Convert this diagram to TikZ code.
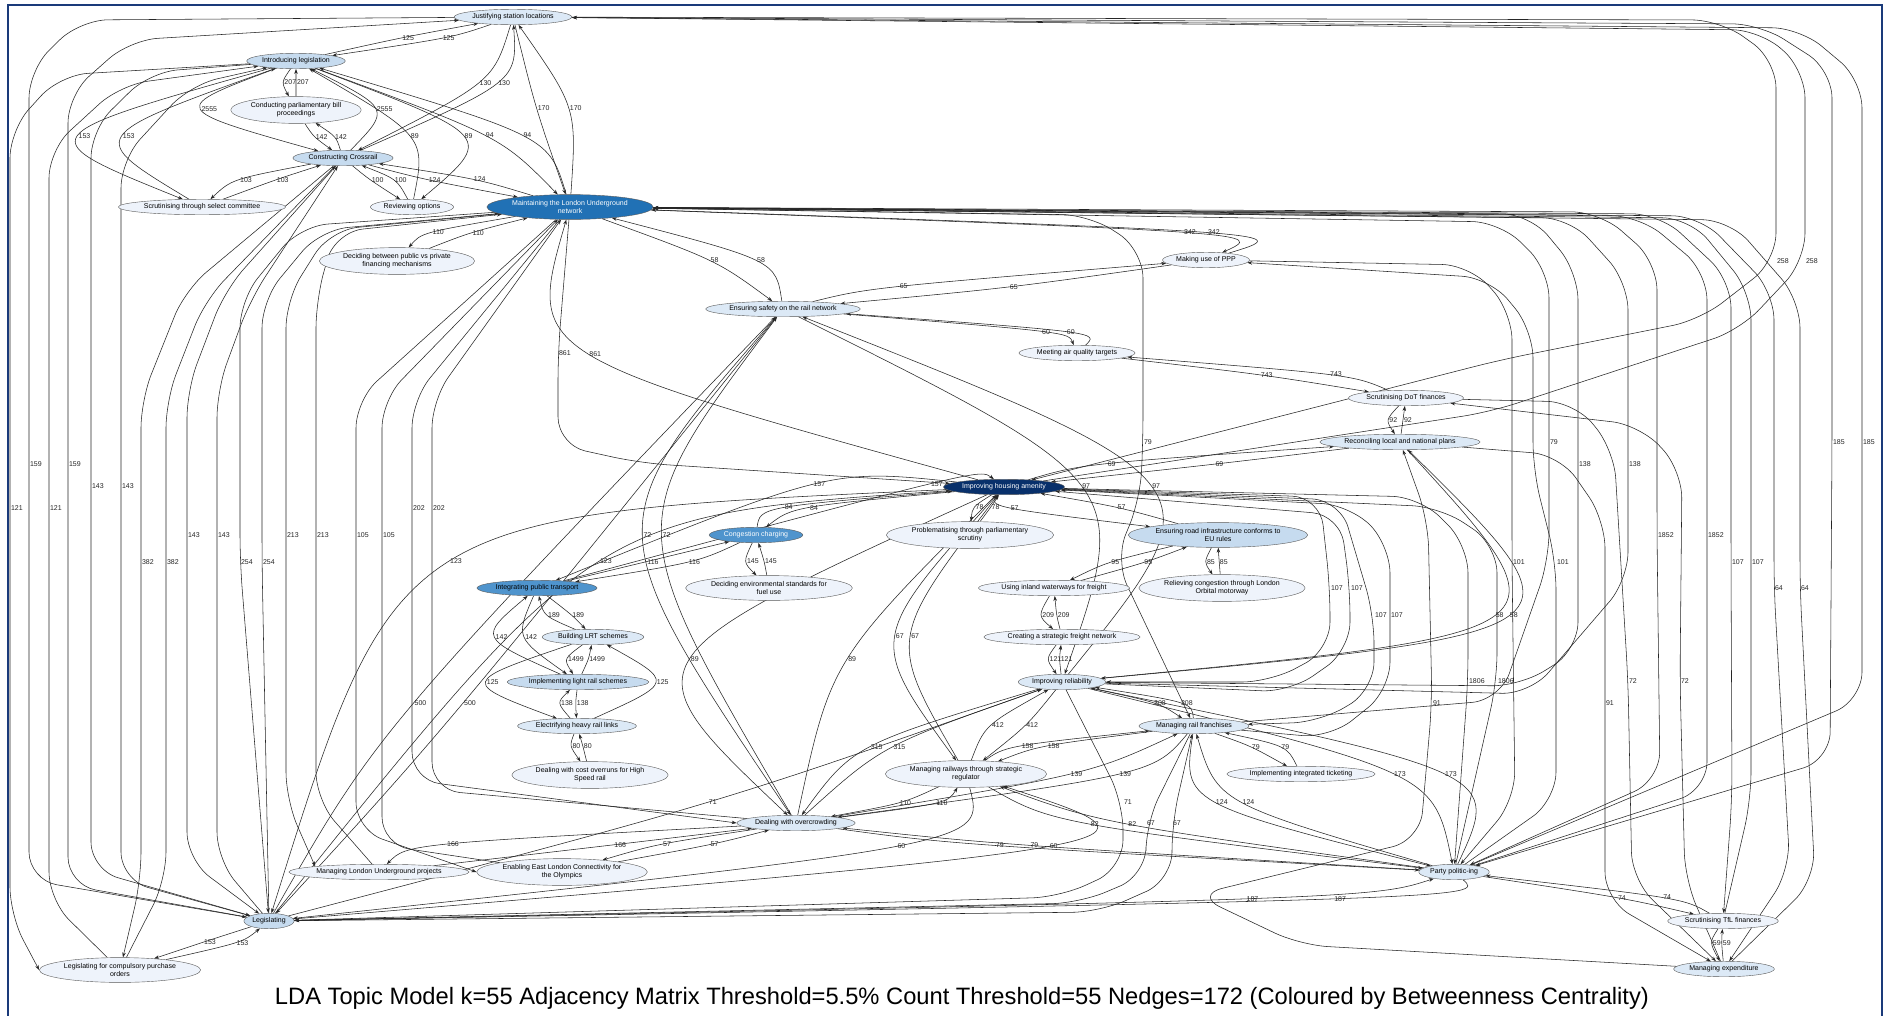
\documentclass[tikz,border=0pt]{standalone}
\usepackage{fontspec}
\setmainfont{Liberation Sans}
\usepackage{tikz}
\usetikzlibrary{arrows.meta,shapes.geometric,calc,backgrounds}

\definecolor{bc0}{HTML}{EEF3FB}
\definecolor{bc1}{HTML}{DCE9F6}
\definecolor{bc2}{HTML}{C6DBEF}
\definecolor{bc3}{HTML}{4F94CD}
\definecolor{bc4}{HTML}{2171B5}
\definecolor{bc5}{HTML}{08306B}
\definecolor{frame}{HTML}{1A3A7A}

\newcommand{\nfont}{\fontsize{7}{8}\selectfont}
\newcommand{\lfont}{\fontsize{7}{8}\selectfont}

% one weighted arc, bent through a point on its way
\newcommand{\lnk}[4]{%
  \draw[arr] (#1) .. controls ($1.3333*(#3)-0.16667*(#1)-0.16667*(#2)$) .. (#2)
    node[lbl,pos=.5]{#4};}

\begin{document}
\begin{tikzpicture}[
    x=1pt, y=-1pt,
    nd/.style={ellipse, draw=black!65, line width=0.4pt, inner xsep=1pt, inner ysep=2.2pt, font=\nfont, align=center},
    arr/.style={-{Stealth[length=5pt,width=3.5pt]}, draw=black!85, line width=0.55pt},
    rte/.style={arr, rounded corners=28pt},
    lbl/.style={font=\lfont, inner sep=0.8pt, anchor=west, text=black!85}
  ]
  \useasboundingbox (0,0) rectangle (1885,1015);

  % topics
  \node[nd, fill=bc1] (just) at (513,17) {Justifying station locations};
  \node[nd, fill=bc2] (intro) at (296,61) {Introducing legislation};
  \node[nd, fill=bc0] (conduct) at (296,110) {Conducting parliamentary bill\\proceedings};
  \node[nd, fill=bc2] (crossrail) at (343,158) {Constructing Crossrail};
  \node[nd, fill=bc0] (scrutsc) at (202,207) {Scrutinising through select committee};
  \node[nd, fill=bc0] (review) at (412,207) {Reviewing options};
  \node[nd, fill=bc4, text=white] (lu) at (570,207) {Maintaining the London Underground\\network};
  \node[nd, fill=bc0] (pubpriv) at (397,261) {Deciding between public vs private\\financing mechanisms};
  \node[nd, fill=bc0] (ppp) at (1206,260) {Making use of PPP};
  \node[nd, fill=bc1] (safety) at (783,309) {Ensuring safety on the rail network};
  \node[nd, fill=bc0] (air) at (1077,353) {Meeting air quality targets};
  \node[nd, fill=bc0] (dot) at (1406,398) {Scrutinising DoT finances};
  \node[nd, fill=bc1] (recon) at (1400,442) {Reconciling local and national plans};
  \node[nd, fill=bc5, text=white] (housing) at (1004,487) {Improving housing amenity};
  \node[nd, fill=bc3, text=white] (congest) at (756,535) {Congestion charging};
  \node[nd, fill=bc0] (problem) at (970,535) {Problematising through parliamentary\\scrutiny};
  \node[nd, fill=bc2] (euroad) at (1218,535) {Ensuring road infrastructure conforms to\\EU rules};
  \node[nd, fill=bc0] (envstd) at (769,588) {Deciding environmental standards for\\fuel use};
  \node[nd, fill=bc3] (integ) at (537,588) {Integrating public transport};
  \node[nd, fill=bc0] (waterway) at (1054,588) {Using inland waterways for freight};
  \node[nd, fill=bc0] (orbital) at (1222,588) {Relieving congestion through London\\Orbital motorway};
  \node[nd, fill=bc1] (lrt) at (593,637) {Building LRT schemes};
  \node[nd, fill=bc0] (freight) at (1062,637) {Creating a strategic freight network};
  \node[nd, fill=bc2] (lightrail) at (578,682) {Implementing light rail schemes};
  \node[nd, fill=bc1] (reliab) at (1062,682) {Improving reliability};
  \node[nd, fill=bc1] (electric) at (577,726) {Electrifying heavy rail links};
  \node[nd, fill=bc1] (franch) at (1194,726) {Managing rail franchises};
  \node[nd, fill=bc0] (overrun) at (590,775) {Dealing with cost overruns for High\\Speed rail};
  \node[nd, fill=bc0] (regul) at (966,774) {Managing railways through strategic\\regulator};
  \node[nd, fill=bc0] (ticket) at (1301,774) {Implementing integrated ticketing};
  \node[nd, fill=bc1] (overcrowd) at (796,823) {Dealing with overcrowding};
  \node[nd, fill=bc0] (lupro) at (379,872) {Managing London Underground projects};
  \node[nd, fill=bc0] (olymp) at (562,872) {Enabling East London Connectivity for\\the Olympics};
  \node[nd, fill=bc1] (party) at (1454,872) {Party politic-ing};
  \node[nd, fill=bc2] (legis) at (269,921) {Legislating};
  \node[nd, fill=bc0] (til) at (1723,921) {Scrutinising TfL finances};
  \node[nd, fill=bc0] (cpo) at (120,970) {Legislating for compulsory purchase\\orders};
  \node[nd, fill=bc1] (expend) at (1724,969) {Managing expenditure};

  \node[font=\fontsize{23.7}{27}\selectfont] (caption) at (962,998)
    {LDA Topic Model k=55 Adjacency Matrix Threshold=5.5\% Count Threshold=55 Nedges=172 (Coloured by Betweenness Centrality)};

  \draw[frame, line width=2pt] (8,1040) -- (8,5) -- (1882,5) -- (1882,1040);

  \begin{scope}[on background layer]
    \fill[white] (0,0) rectangle (1885,1015);

    % upper cluster
    \lnk{intro}{just}{402,38}{125}
    \lnk{just}{intro}{440,38}{125}
    \lnk{intro}{conduct}{285,83}{207}
    \lnk{conduct}{intro}{296,83}{207}
    \lnk{intro}{crossrail}{206,109}{2555}
    \lnk{crossrail}{intro}{373,109}{2555}
    \lnk{conduct}{crossrail}{315,136}{142}
    \lnk{crossrail}{conduct}{332,136}{142}
    \lnk{intro}{scrutsc}{83,136}{153}
    \lnk{scrutsc}{intro}{126,136}{153}
    \lnk{crossrail}{scrutsc}{242,180}{103}
    \lnk{scrutsc}{crossrail}{276,180}{103}
    \lnk{crossrail}{review}{371,180}{100}
    \lnk{review}{crossrail}{392,180}{100}
    \lnk{review}{intro}{408,136}{89}
    \lnk{intro}{review}{460,136}{89}
    \lnk{just}{crossrail}{477,83}{130}
    \lnk{crossrail}{just}{495,83}{130}
    \lnk{crossrail}{lu}{431,180}{124}
    \lnk{lu}{crossrail}{473,180}{124}
    \lnk{intro}{lu}{484,136}{94}
    \lnk{lu}{intro}{520,136}{94}
    \lnk{just}{lu}{537,109}{170}
    \lnk{lu}{just}{568,109}{170}
    \lnk{lu}{pubpriv}{437,233}{110}
    \lnk{pubpriv}{lu}{473,233}{110}

    % middle
    \lnk{lu}{ppp}{1171,233}{342}
    \lnk{ppp}{lu}{1194,233}{342}
    \lnk{lu}{safety}{707,260}{58}
    \lnk{safety}{lu}{751,260}{58}
    \lnk{safety}{ppp}{900,287}{65}
    \lnk{ppp}{safety}{1006,287}{65}
    \lnk{safety}{air}{1034,332}{60}
    \lnk{air}{safety}{1057,332}{60}
    \lnk{air}{dot}{1259,375}{743}
    \lnk{dot}{air}{1325,375}{743}
    \lnk{dot}{recon}{1390,420}{92}
    \lnk{recon}{dot}{1403,420}{92}
    \lnk{housing}{lu}{592,353}{861}
    \draw[rte] (lu) -- (558,353) node[lbl]{861} -- (558,445) -- (640,463) -- (housing);
    \lnk{housing}{recon}{1112,464}{69}
    \lnk{recon}{housing}{1215,464}{69}
    \lnk{housing}{integ}{816,486}{157}
    \lnk{integ}{housing}{928,486}{157}
    \lnk{safety}{reliab}{1079,486}{97}
    \lnk{reliab}{safety}{1148,486}{97}
    \lnk{congest}{housing}{790,508}{84}
    \lnk{housing}{congest}{814,508}{84}
    \lnk{housing}{problem}{976,508}{78}
    \lnk{problem}{housing}{990,508}{78}
    \lnk{housing}{euroad}{1019,508}{57}
    \lnk{euroad}{housing}{1117,508}{57}
    \lnk{safety}{overcrowd}{644,535}{72}
    \lnk{overcrowd}{safety}{663,535}{72}
    \lnk{congest}{envstd}{748,562}{145}
    \lnk{envstd}{congest}{764,562}{145}
    \lnk{euroad}{waterway}{1114,562}{95}
    \lnk{waterway}{euroad}{1144,562}{95}
    \lnk{euroad}{orbital}{1208,562}{85}
    \lnk{orbital}{euroad}{1219,562}{85}
    \lnk{housing}{legis}{456,562}{123}
    \lnk{legis}{housing}{605,562}{123}
    \lnk{integ}{congest}{646,562}{116}
    \lnk{congest}{integ}{685,562}{116}
    \lnk{lrt}{integ}{549,615}{189}
    \lnk{integ}{lrt}{571,615}{189}
    \lnk{lightrail}{integ}{498,637}{142}
    \lnk{integ}{lightrail}{526,637}{142}
    \lnk{housing}{regul}{897,637}{67}
    \lnk{regul}{housing}{912,637}{67}
    \lnk{waterway}{freight}{1043,615}{209}
    \lnk{freight}{waterway}{1057,615}{209}
    \lnk{lrt}{lightrail}{569,659}{1499}
    \lnk{lightrail}{lrt}{588,659}{1499}
    \lnk{housing}{overcrowd}{693,659}{89}
    \lnk{overcrowd}{housing}{848,659}{89}
    \lnk{freight}{reliab}{1050,659}{121}
    \lnk{reliab}{freight}{1060,659}{121}
    \lnk{lrt}{electric}{491,682}{125}
    \lnk{electric}{lrt}{652,682}{125}
    \lnk{electric}{lightrail}{562,703}{138}
    \lnk{lightrail}{electric}{576,703}{138}
    \lnk{legis}{safety}{414,703}{500}
    \lnk{safety}{legis}{463,703}{500}
    \lnk{electric}{overrun}{573,747}{80}
    \lnk{overrun}{electric}{583,747}{80}

    % lower
    \lnk{reliab}{overcrowd}{872,747}{315}
    \lnk{overcrowd}{reliab}{894,747}{315}
    \lnk{regul}{reliab}{992,726}{412}
    \lnk{reliab}{regul}{1024,726}{412}
    \lnk{reliab}{franch}{1151,703}{308}
    \lnk{franch}{reliab}{1176,703}{308}
    \lnk{regul}{franch}{1024,747}{158}
    \lnk{franch}{regul}{1048,747}{158}
    \lnk{franch}{ticket}{1250,747}{79}
    \lnk{ticket}{franch}{1277,747}{79}
    \lnk{overcrowd}{franch}{1067,774}{139}
    \lnk{franch}{overcrowd}{1114,774}{139}
    \lnk{regul}{overcrowd}{898,802}{110}
    \lnk{overcrowd}{regul}{931,802}{110}
    \lnk{legis}{reliab}{708,802}{71}
    \draw[rte] (reliab) -- (1123,802) node[lbl]{71} -- (1123,868) -- (1060,897) -- (legis);
    \draw[rte] (franch) -- (1146,823) node[lbl]{67} -- (1146,875) -- (1080,903) -- (legis);
    \draw[rte] (legis) -- (1100,912) -- (1172,880) -- (1172,823) node[lbl]{67} -- (franch);
    \lnk{regul}{party}{1091,823}{82}
    \lnk{party}{regul}{1127,823}{82}
    \lnk{franch}{party}{1218,802}{124}
    \lnk{party}{franch}{1244,802}{124}
    \lnk{overcrowd}{party}{994,845}{79}
    \lnk{party}{overcrowd}{1028,845}{79}
    \lnk{regul}{legis}{893,845}{60}
    \lnk{legis}{regul}{1041,845}{60}
    \lnk{legis}{party}{1245,898}{187}
    \lnk{party}{legis}{1329,898}{187}
    \lnk{overcrowd}{lupro}{452,845}{166}
    \lnk{lupro}{overcrowd}{612,845}{166}
    \lnk{overcrowd}{olymp}{662,845}{57}
    \lnk{olymp}{overcrowd}{706,845}{57}
    \lnk{legis}{cpo}{201,943}{153}
    \lnk{cpo}{legis}{231,943}{153}
    \lnk{party}{til}{1617,898}{74}
    \lnk{til}{party}{1660,898}{74}
    \lnk{til}{expend}{1713,943}{59}
    \lnk{expend}{til}{1722,943}{59}
    \lnk{recon}{reliab}{1489,615}{58}
    \lnk{reliab}{recon}{1503,615}{58}
    \lnk{reliab}{party}{1390,774}{173}
    \lnk{party}{reliab}{1440,774}{173}

    % long runs down the left
    \draw[rte] (intro) -- (60,75) -- (10,130) -- (10,508) node[lbl]{121} -- (10,915) -- (cpo.west);
    \draw[rte] (cpo) -- (49,900) -- (49,508) node[lbl]{121} -- (49,150) -- (120,85) -- (intro);
    \draw[rte] (just) -- (80,20) -- (29,70) -- (29,464) node[lbl]{159} -- (29,880) -- (legis);
    \draw[rte] (legis) -- (68,885) -- (68,464) node[lbl]{159} -- (68,95) -- (130,40) -- (just);
    \draw[rte] (intro) -- (150,72) -- (91,130) -- (91,486) node[lbl]{143} -- (91,870) -- (legis);
    \draw[rte] (legis) -- (121,880) -- (121,486) node[lbl]{143} -- (121,160) -- (190,85) -- (intro);
    \draw[rte] (crossrail) -- (185,290) -- (141,400) -- (141,562) node[lbl]{382} -- (141,880) -- (cpo);
    \draw[rte] (cpo) -- (166,880) -- (166,562) node[lbl]{382} -- (166,400) -- (205,300) -- (crossrail);
    \draw[rte] (crossrail) -- (225,290) -- (187,390) -- (187,535) node[lbl]{143} -- (187,860) -- (legis);
    \draw[rte] (legis) -- (217,860) -- (217,535) node[lbl]{143} -- (217,390) -- (250,300) -- (crossrail);
    \draw[rte] (lu) -- (300,226) -- (240,300) -- (240,562) node[lbl]{254} -- (legis);
    \draw[rte] (legis) -- (262,562) node[lbl]{254} -- (262,300) -- (320,230) -- (lu);
    \draw[rte] (lu) -- (330,230) -- (286,300) -- (286,535) node[lbl]{213} -- (286,800) -- (lupro.north west);
    \draw[rte] (lupro) -- (316,800) -- (316,535) node[lbl]{213} -- (316,300) -- (335,232) -- (lu);
    \draw[rte] (lu) -- (356,400) -- (356,535) node[lbl]{105} -- (356,830) -- (olymp.west);
    \draw[rte] (olymp) -- (382,845) -- (382,535) node[lbl]{105} -- (382,400) -- (lu);
    \draw[rte] (lu) -- (412,400) -- (412,508) node[lbl]{202} -- (412,780) -- (overcrowd.west);
    \draw[rte] (overcrowd) -- (432,790) -- (432,508) node[lbl]{202} -- (432,400) -- (lu);

    % long runs down the right
    \draw[rte] (just) -- (1720,20) -- (1776,60) -- (1776,261) node[lbl]{258} -- (1700,320) -- (1500,360) -- (housing);
    \draw[rte] (housing) -- (1490,412) -- (1740,330) -- (1805,261) node[lbl]{258} -- (1805,70) -- (1760,30) -- (just);
    \draw[rte] (just) -- (1760,24) -- (1832,70) -- (1832,442) node[lbl]{185} -- (1830,760) -- (party);
    \draw[rte] (party) -- (1862,700) -- (1862,442) node[lbl]{185} -- (1862,80) -- (1800,28) -- (just);
    \draw[rte] (lu) -- (1600,212) -- (1657,262) -- (1657,535) node[lbl]{1852} -- (1660,780) -- (party);
    \draw[rte] (party) -- (1707,790) -- (1707,535) node[lbl]{1852} -- (1707,272) -- (1640,216) -- (lu);
    \draw[rte] (lu) -- (1660,214) -- (1731,280) -- (1731,562) node[lbl]{107} -- (1732,800) -- (til);
    \draw[rte] (til) -- (1751,800) -- (1751,562) node[lbl]{107} -- (1751,292) -- (1690,218) -- (lu);
    \draw[rte] (lu) -- (1700,216) -- (1774,292) -- (1774,588) node[lbl]{64} -- (1790,870) -- (expend);
    \draw[rte] (expend) -- (1815,880) -- (1800,588) node[lbl]{64} -- (1800,300) -- (1730,220) -- (lu);
    \draw[rte] (lu) -- (1090,215) -- (1143,250) -- (1143,442) node[lbl]{79} -- (1140,500) -- (1115,560) -- (franch);
    \draw[rte] (franch) -- (1500,700) -- (1549,560) -- (1549,442) node[lbl]{79} -- (1549,270) -- (1500,222) -- (lu);
    \draw[rte] (lu) -- (1530,214) -- (1578,272) -- (1578,464) node[lbl]{138} -- (1578,650) -- (1520,686) -- (reliab);
    \draw[rte] (reliab) -- (1530,694) -- (1628,580) -- (1628,464) node[lbl]{138} -- (1628,282) -- (1570,218) -- (lu);
    \draw[rte] (dot) -- (1575,402) -- (1614,450) -- (1628,681) node[lbl]{72} -- (1632,880) -- (expend);
    \draw[rte] (expend) -- (1685,880) -- (1680,681) node[lbl]{72} -- (1682,470) -- (1640,425) -- (dot);
    \draw[rte] (recon) -- (1560,455) -- (1605,520) -- (1605,703) node[lbl]{91} -- (1605,900) -- (expend);
    \draw[rte] (expend) -- (1300,945) -- (1195,895) -- (1420,840) -- (1432,703) node[lbl]{91} -- (1428,520) -- (recon);
    \draw[rte] (housing) -- (1420,497) -- (1468,545) -- (1468,681) node[lbl]{1806} -- (party);
    \draw[rte] (party) -- (1497,681) node[lbl]{1806} -- (1497,545) -- (1440,507) -- (housing);
    \draw[rte] (ppp) -- (1470,265) -- (1512,312) -- (1512,562) node[lbl]{101} -- (1515,800) -- (party);
    \draw[rte] (party) -- (1556,800) -- (1556,562) node[lbl]{101} -- (1533,470) -- (1533,330) -- (1490,278) -- (ppp);
    \draw[rte] (housing) -- (1320,497) -- (1330,588) node[lbl]{107} -- (1330,650) -- (1270,682) -- (reliab);
    \draw[rte] (reliab) -- (1290,692) -- (1350,650) -- (1350,588) node[lbl]{107} -- (1340,515) -- (housing);
    \draw[rte] (housing) -- (1340,500) -- (1374,615) node[lbl]{107} -- (1374,690) -- (1320,722) -- (franch);
    \draw[rte] (franch) -- (1330,738) -- (1390,690) -- (1390,615) node[lbl]{107} -- (1390,545) -- (1350,505) -- (housing);
  \end{scope}
\end{tikzpicture}
\end{document}
